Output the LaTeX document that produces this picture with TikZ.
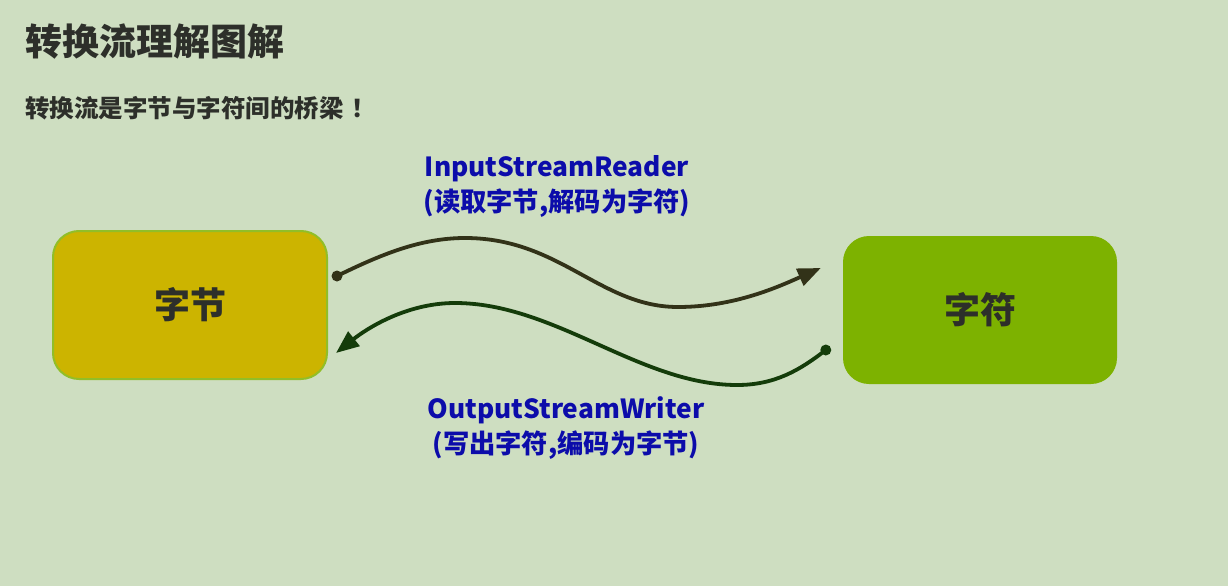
\documentclass[tikz,border=0pt]{standalone}
\usepackage{fontspec}
\setmainfont{Noto Sans CJK SC}
\usetikzlibrary{arrows.meta,calc}
\definecolor{bgc}{RGB}{206,222,193}
\definecolor{bytefill}{RGB}{204,180,0}
\definecolor{byteedge}{RGB}{145,190,40}
\definecolor{charfill}{RGB}{125,178,0}
\definecolor{txt}{RGB}{45,47,42}
\definecolor{lblblue}{RGB}{12,12,170}
\definecolor{arrowA}{RGB}{50,50,24}
\definecolor{arrowB}{RGB}{20,60,10}
\tikzset{
  box/.style={rounded corners=26pt, minimum width=274pt, minimum height=148pt, inner sep=0pt,
    font=\fontsize{36}{40}\selectfont\bfseries, text=txt},
  lbl/.style={align=center, text=lblblue, font=\fontsize{26.3}{35}\selectfont\bfseries},
  flow/.style={line width=3.8pt, -{Triangle[length=23pt,width=18pt]}},
  titletext/.style={anchor=west, text=txt, inner sep=0pt}
}
\begin{document}
\begin{tikzpicture}[x=1pt,y=-1pt]
\fill[bgc] (0,0) rectangle (1228,586);
\useasboundingbox (0,0) rectangle (1228,586);

\node[titletext, font=\fontsize{37}{40}\selectfont\bfseries] (title) at (25,42) {转换流理解图解};
\node[titletext, font=\fontsize{24.5}{28}\selectfont\bfseries] (subtitle) at (25,108) {转换流是字节与字符间的桥梁\hspace{8pt}！};

\node[box, fill=bytefill, draw=byteedge, line width=2pt] (bytes) at (190,305) {字节};
\node[box, fill=charfill] (chars) at (980,310) {字符};

\node[lbl] (lblin) at (557,186) {InputStreamReader\\(读取字节,解码为字符)};
\node[lbl] (lblout) at (566,428) {OutputStreamWriter\\(写出字符,编码为字节)};

\coordinate (s1) at ($(bytes.east)+(9,-29)$);
\coordinate (e1) at ($(chars.west)+(-22,-42)$);
\coordinate (s2) at ($(chars.west)+(-17,40)$);
\coordinate (e2) at ($(bytes.east)+(8,48)$);

\draw[flow, arrowA] (s1) .. controls (380,255) and (420,238) .. (465,238)
  .. controls (560,238) and (600,307) .. (678,307)
  .. controls (735,307) and (780,286) .. (e1);
\fill[arrowA] (s1) circle (5.5);

\draw[flow, arrowB] (s2) .. controls (800,370) and (775,385) .. (737,385)
  .. controls (640,385) and (555,303) .. (455,303)
  .. controls (405,303) and (365,330) .. (e2);
\fill[arrowB] (s2) circle (5.5);
\end{tikzpicture}
\end{document}
